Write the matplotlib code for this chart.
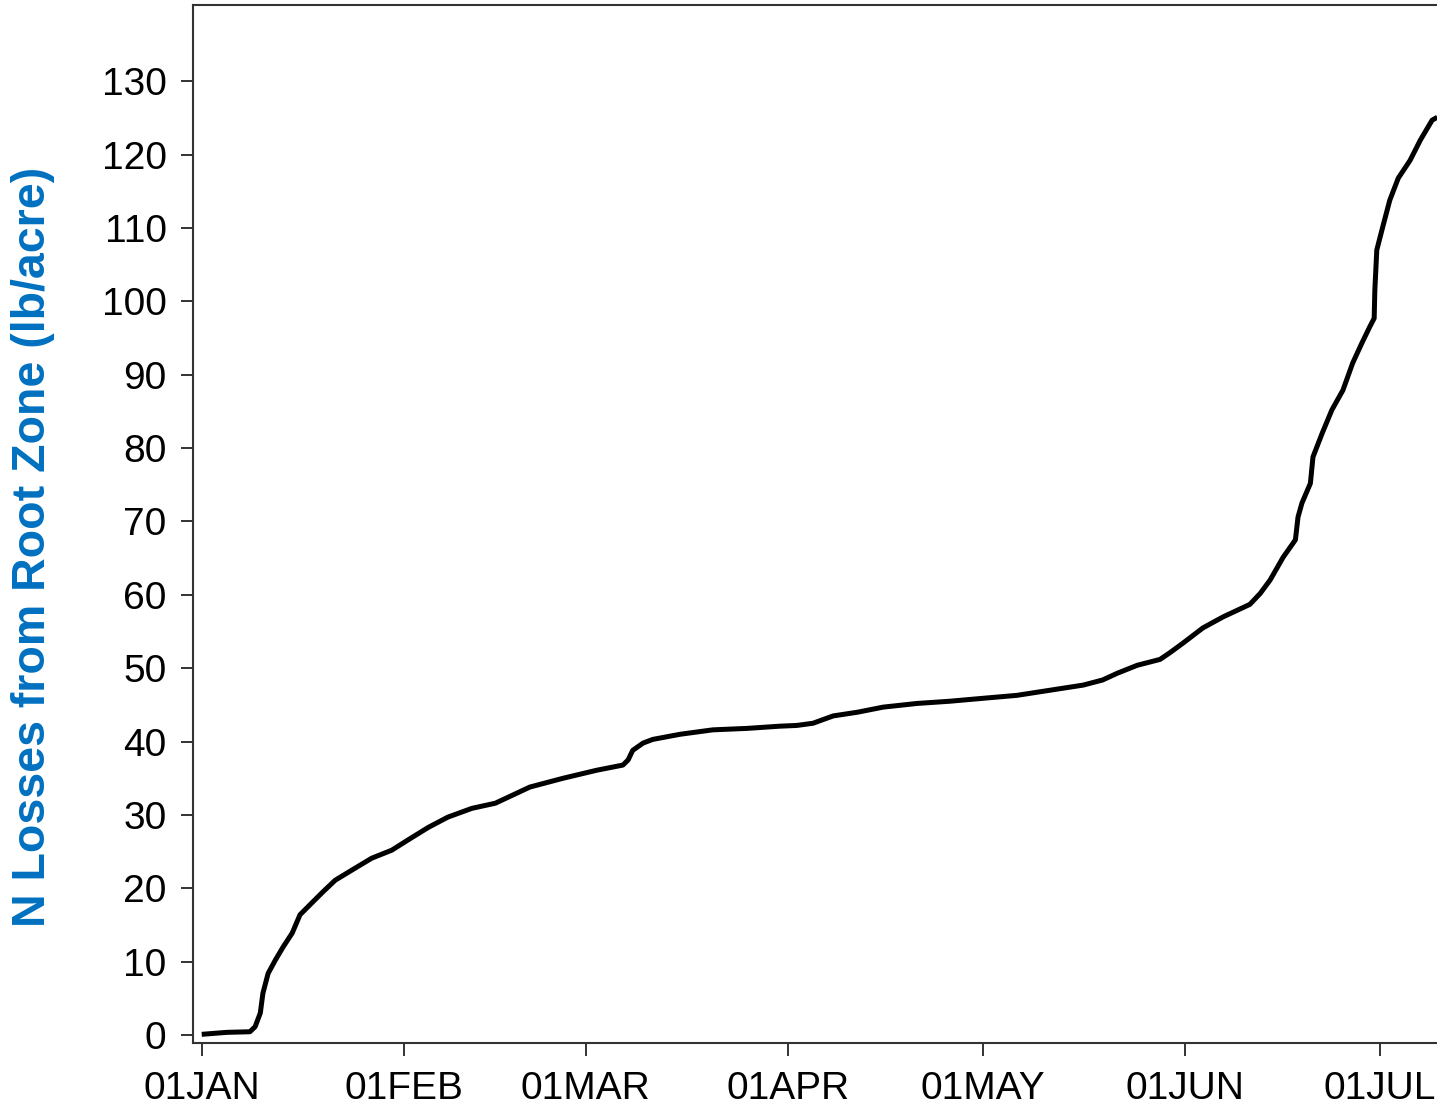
import matplotlib
matplotlib.use("Agg")
import matplotlib.pyplot as plt

# Cumulative N losses from the root zone, by day of year (0 = 01JAN)
days = [0, 3.9, 7.4, 8.2, 9.0, 9.4, 10.2, 11.3, 12.5, 13.9, 15.1, 16.9, 18.6,
        20.5, 23.1, 26.1, 29.2, 31.7, 34.8, 37.8, 41.5, 45.1, 50.4, 55.5,
        60.7, 64.7, 65.5, 66.2, 67.8, 69.3, 73.5, 78.5, 83.8, 88.8, 91.4,
        93.9, 97.0, 100.7, 104.7, 109.9, 114.9, 120.0, 125.2, 130.3, 135.4,
        138.4, 140.6, 143.7, 147.2, 148.7, 150.7, 153.8, 156.9, 161.0, 162.6,
        164.1, 166.1, 168.0, 168.4, 169.0, 170.3, 170.7, 172.1, 173.6, 175.3,
        176.8, 178.2, 179.4, 180.1, 180.2, 180.5, 181.4, 182.5, 183.8, 185.6,
        187.2, 189.0, 189.8]
n_loss = [0.1, 0.37, 0.45, 1.13, 3.0, 5.7, 8.4, 10.2, 12.0, 13.9, 16.4, 18.0,
          19.5, 21.1, 22.5, 24.1, 25.2, 26.6, 28.3, 29.7, 30.9, 31.6, 33.8,
          35.0, 36.1, 36.8, 37.5, 38.8, 39.8, 40.3, 41.0, 41.6, 41.8, 42.1,
          42.2, 42.5, 43.5, 44.0, 44.7, 45.2, 45.5, 45.9, 46.3, 47.0, 47.7,
          48.4, 49.3, 50.4, 51.2, 52.1, 53.4, 55.5, 57.0, 58.7, 60.2, 62.0,
          65.1, 67.5, 70.6, 72.5, 75.2, 78.8, 82.0, 85.2, 87.9, 91.6, 94.3,
          96.5, 97.7, 101.5, 107.0, 110.1, 113.8, 116.8, 119.2, 122.0, 124.7,
          125.1]

# Month starts (day of year) and their labels
month_days = [0, 31, 59, 90, 120, 151, 181]
month_labels = ["01JAN", "01FEB", "01MAR", "01APR", "01MAY", "01JUN", "01JUL"]
y_ticks = list(range(0, 131, 10))

tick_font = ["Liberation Sans", "DejaVu Sans"]

fig = plt.figure(figsize=(14.37, 11.09), dpi=100)
ax = fig.add_axes([0.1343, 0.0592, 1.0 - 0.1343, 0.9955 - 0.0592])

ax.plot(days, n_loss, color="black", linewidth=3.6, solid_joinstyle="round",
        solid_capstyle="butt")

ax.set_xlim(-1.34, 189.75)
ax.set_ylim(-1.13, 140.4)

ax.set_xticks(month_days)
ax.set_xticklabels(month_labels)
ax.set_yticks(y_ticks)
ax.set_yticklabels([str(v) for v in y_ticks])

for lbl in ax.get_xticklabels() + ax.get_yticklabels():
    lbl.set_fontfamily(tick_font)
    lbl.set_fontsize(28)
    lbl.set_color("black")

ax.tick_params(axis="x", length=9, width=1.4, color="#333333", pad=11)
ax.tick_params(axis="y", length=9, width=1.4, color="#333333", pad=10)

for side in ("left", "bottom", "top"):
    ax.spines[side].set_linewidth(1.5)
    ax.spines[side].set_color("#333333")
ax.spines["right"].set_visible(False)

fig.text(33 / 1437, 0.507, "N Losses from Root Zone (lb/acre)",
         rotation=90, ha="center", va="center", fontsize=33.5,
         fontweight="bold", color="#0070C0",
         family=["Liberation Sans", "DejaVu Sans"])

fig.savefig("out.png", dpi=100)
